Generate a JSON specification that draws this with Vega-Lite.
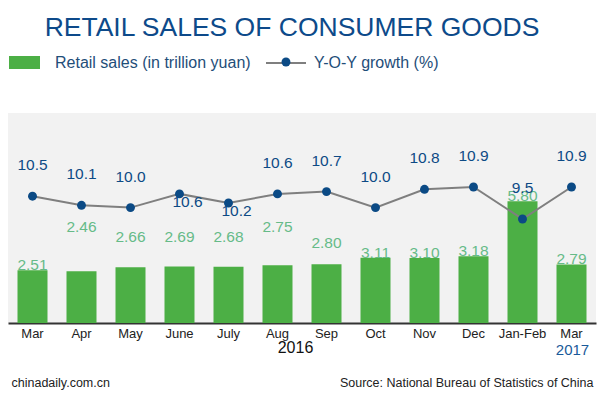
{
  "$schema": "https://vega.github.io/schema/vega-lite/v6.json",
  "width": 588,
  "height": 210,
  "autosize": "none",
  "padding": {"left": 8, "top": 113, "right": 4, "bottom": 71},
  "background": "white",
  "view": {"fill": "#f2f2f2", "stroke": null},
  "config": {
    "font": "Liberation Sans",
    "text": {"font": "Liberation Sans"}
  },
  "title": {
    "text": "RETAIL SALES OF CONSUMER GOODS",
    "fontSize": 26.5,
    "fontWeight": "normal",
    "color": "#0d4a8a",
    "font": "Liberation Sans",
    "anchor": "middle",
    "dx": -10,
    "offset": 1
  },
  "data": {
    "values": [
      {"period": "Mar 2016", "sales": 2.51, "growth": 10.5},
      {"period": "Apr", "sales": 2.46, "growth": 10.1},
      {"period": "May", "sales": 2.66, "growth": 10.0},
      {"period": "June", "sales": 2.69, "growth": 10.6},
      {"period": "July", "sales": 2.68, "growth": 10.2},
      {"period": "Aug", "sales": 2.75, "growth": 10.6},
      {"period": "Sep", "sales": 2.80, "growth": 10.7},
      {"period": "Oct", "sales": 3.11, "growth": 10.0},
      {"period": "Nov", "sales": 3.10, "growth": 10.8},
      {"period": "Dec", "sales": 3.18, "growth": 10.9},
      {"period": "Jan-Feb", "sales": 5.80, "growth": 9.5},
      {"period": "Mar 2017", "sales": 2.79, "growth": 10.9}
    ]
  },
  "layer": [
    {
      "mark": {"type": "bar"},
      "encoding": {
        "x": {
          "field": "period", "type": "nominal", "sort": null,
          "scale": {"paddingInner": 0.388, "paddingOuter": 0.194},
          "axis": {
            "orient": "bottom",
            "title": "2016", "titleFontSize": 16, "titleFontWeight": "normal", "titleColor": "#111111",
            "titleX": 287, "titleY": 29, "titleAlign": "center", "titleBaseline": "alphabetic", "titleAnchor": null,
            "labelExpr": "split(datum.label, ' ')[0]", "labelAngle": 0, "labelFontSize": 13, "labelColor": "#222222",
            "labelPadding": 4, "ticks": false, "domainColor": "#333333", "domainWidth": 2, "grid": false
          }
        },
        "y": {
          "field": "sales", "type": "quantitative",
          "scale": {"domain": [0, 10], "nice": false, "zero": true},
          "axis": {
            "orient": "left",
            "title": "chinadaily.com.cn", "titleAngle": 0, "titleX": 3, "titleY": 273, "titleAlign": "left",
            "titleBaseline": "alphabetic", "titleFontSize": 12.5, "titleFontWeight": "normal", "titleColor": "#222222",
            "labels": false, "ticks": false, "domain": false, "grid": false
          }
        },
        "fill": {
          "datum": "Retail sales (in trillion yuan)",
          "scale": {"range": ["#4caf45"]},
          "legend": {
            "title": null, "orient": "none", "legendX": 1, "legendY": -66, "padding": 0,
            "symbolType": "M-1,-0.42L1,-0.42L1,0.42L-1,0.42Z", "symbolSize": 961, "symbolStrokeWidth": 0,
            "labelFontSize": 16, "labelColor": "#1f4e79", "labelFont": "Liberation Sans", "labelOffset": 15,
            "labelLimit": 400
          }
        }
      }
    },
    {
      "mark": {
        "type": "text", "fontSize": 15.5, "color": "#66bb88", "baseline": "middle",
        "dy": {"expr": "indexof(['Mar 2016','Oct','Nov','Dec','Jan-Feb','Mar 2017'], datum.period) >= 0 ? -5 : datum.period === 'Apr' ? -44 : datum.period === 'Aug' ? -38 : datum.period === 'Sep' ? -21 : -30"}
      },
      "encoding": {
        "x": {"field": "period", "type": "nominal", "sort": null, "axis": null},
        "y": {"field": "sales", "type": "quantitative", "scale": {"domain": [0, 10], "nice": false}, "axis": null},
        "text": {"field": "sales", "type": "quantitative", "format": ".2f"}
      }
    },
    {
      "mark": {"type": "line", "strokeWidth": 2},
      "encoding": {
        "x": {
          "field": "period", "type": "nominal", "sort": null,
          "axis": {
            "orient": "bottom",
            "title": "2017", "titleFontSize": 15, "titleFontWeight": "normal", "titleColor": "#1a5a9a",
            "titleX": 564, "titleY": 31, "titleAlign": "center", "titleBaseline": "alphabetic", "titleAnchor": null,
            "labels": false, "ticks": false, "domain": false, "grid": false
          }
        },
        "y": {
          "field": "growth", "type": "quantitative",
          "scale": {"domain": [4.95, 14.14], "nice": false, "zero": false},
          "axis": {
            "orient": "right",
            "title": "Source: National Bureau of Statistics of China", "titleAngle": 0, "titleX": -3, "titleY": 273,
            "titleAlign": "right", "titleBaseline": "alphabetic", "titleFontSize": 12.5, "titleFontWeight": "normal",
            "titleColor": "#222222", "labels": false, "ticks": false, "domain": false, "grid": false
          }
        },
        "stroke": {
          "datum": "Y-O-Y growth (%)",
          "scale": {"range": ["#7f7f7f"]},
          "legend": {
            "title": null, "orient": "none", "legendX": 257, "legendY": -71, "padding": 0,
            "symbolType": "M-1,0L-0.12,0M0.12,0L1,0", "symbolSize": 1600, "symbolStrokeWidth": 2,
            "symbolStrokeColor": "#7f7f7f",
            "labelFontSize": 16, "labelColor": "#1f4e79", "labelFont": "Liberation Sans", "labelOffset": 7,
            "labelLimit": 400
          }
        }
      }
    },
    {
      "mark": {"type": "point", "filled": true, "size": 80, "opacity": 1, "color": "#0b4a85"},
      "encoding": {
        "x": {"field": "period", "type": "nominal", "sort": null, "axis": null},
        "y": {"field": "growth", "type": "quantitative", "scale": {"domain": [4.95, 14.14], "nice": false, "zero": false}, "axis": null},
        "shape": {
          "datum": "Y-O-Y growth (%) dot",
          "scale": {"range": ["circle"]},
          "legend": {
            "title": null, "orient": "none", "legendX": 270, "legendY": -59, "padding": 0,
            "symbolSize": 80, "symbolFillColor": "#0b4a85", "symbolStrokeWidth": 0, "symbolOpacity": 1,
            "labelExpr": "''", "labelFontSize": 16
          }
        }
      }
    },
    {
      "mark": {
        "type": "text", "fontSize": 15.5, "color": "#0d4a85", "baseline": "middle",
        "dx": {"expr": "datum.period === 'June' || datum.period === 'July' ? 8 : 0"},
        "dy": {"expr": "datum.period === 'June' || datum.period === 'July' ? 8 : -31"}
      },
      "encoding": {
        "x": {"field": "period", "type": "nominal", "sort": null, "axis": null},
        "y": {"field": "growth", "type": "quantitative", "scale": {"domain": [4.95, 14.14], "nice": false, "zero": false}, "axis": null},
        "text": {"field": "growth", "type": "quantitative", "format": ".1f"}
      }
    }
  ],
  "resolve": {
    "scale": {"y": "independent"},
    "axis": {"x": "independent", "y": "independent"}
  }
}
